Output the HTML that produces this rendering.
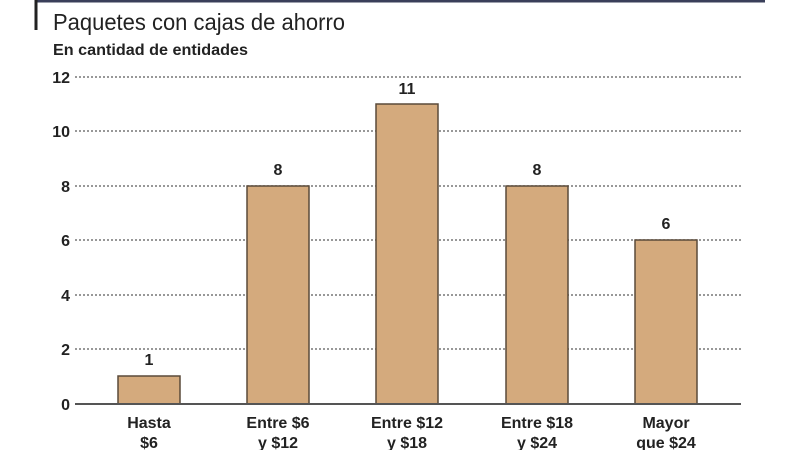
<!DOCTYPE html>
<html><head><meta charset="utf-8"><style>body{margin:0;background:#fff}</style></head><body>
<svg width="800" height="450" xmlns="http://www.w3.org/2000/svg" font-family="Liberation Sans Narrow, Liberation Sans, sans-serif">
<rect x="0" y="0" width="800" height="450" fill="#fff"/>
<line x1="35" y1="1" x2="765" y2="1" stroke="#3a3f5a" stroke-width="3"/>
<line x1="36" y1="0" x2="36" y2="30" stroke="#222" stroke-width="3"/>
<text x="53" y="30" font-size="23" fill="#222" textLength="292" lengthAdjust="spacingAndGlyphs">Paquetes con cajas de ahorro</text>
<text x="53" y="55" font-size="16" font-weight="bold" fill="#222" textLength="195" lengthAdjust="spacingAndGlyphs">En cantidad de entidades</text>
<g stroke="#777" stroke-width="1.5" stroke-dasharray="2,2">
<line x1="75" y1="77" x2="741" y2="77"/><line x1="75" y1="131" x2="741" y2="131"/>
<line x1="75" y1="186" x2="741" y2="186"/><line x1="75" y1="240" x2="741" y2="240"/>
<line x1="75" y1="295" x2="741" y2="295"/><line x1="75" y1="349" x2="741" y2="349"/>
</g>
<g font-size="16" font-weight="bold" fill="#222" text-anchor="end">
<text x="70" y="83">12</text><text x="70" y="137">10</text><text x="70" y="192">8</text>
<text x="70" y="246">6</text><text x="70" y="301">4</text><text x="70" y="355">2</text><text x="70" y="410">0</text>
</g>
<g fill="#d4aa7d" stroke="#5a4a3a" stroke-width="1.5">
<rect x="118" y="376" width="62" height="28"/>
<rect x="247" y="186" width="62" height="218"/>
<rect x="376" y="104" width="62" height="300"/>
<rect x="506" y="186" width="62" height="218"/>
<rect x="635" y="240" width="62" height="164"/>
</g>
<line x1="75" y1="404" x2="741" y2="404" stroke="#555" stroke-width="2"/>
<g font-size="16" font-weight="bold" fill="#222" text-anchor="middle">
<text x="149" y="365">1</text><text x="278" y="175">8</text><text x="407" y="94">11</text>
<text x="537" y="175">8</text><text x="666" y="229">6</text>
</g>
<g font-size="16" fill="#222" text-anchor="middle" font-weight="bold">
<text x="149" y="428">Hasta</text><text x="149" y="448">$6</text>
<text x="278" y="428">Entre $6</text><text x="278" y="448">y $12</text>
<text x="407" y="428">Entre $12</text><text x="407" y="448">y $18</text>
<text x="537" y="428">Entre $18</text><text x="537" y="448">y $24</text>
<text x="666" y="428">Mayor</text><text x="666" y="448">que $24</text>
</g>
</svg>
</body></html>
